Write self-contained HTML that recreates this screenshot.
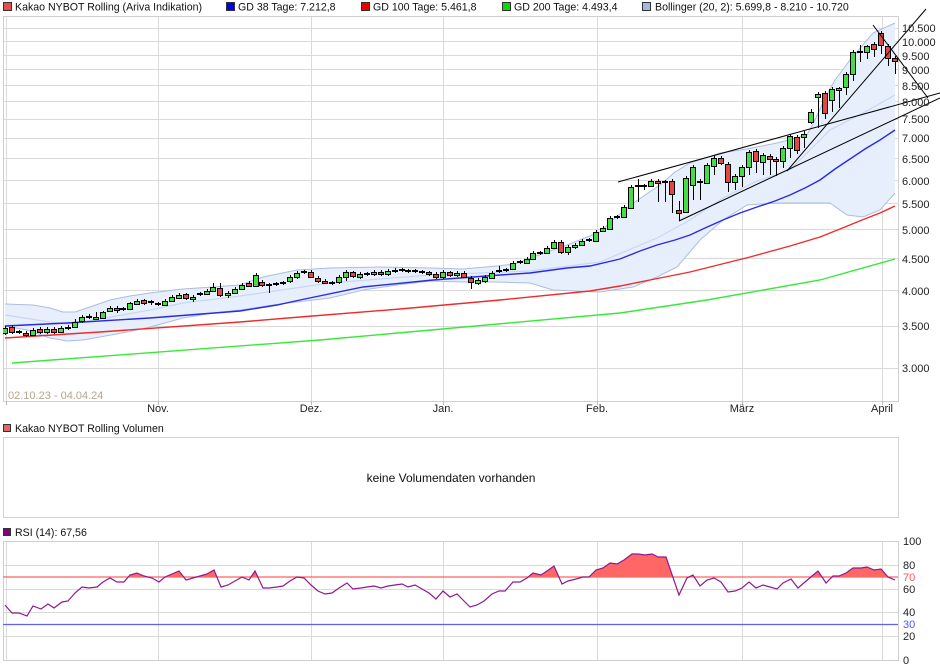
<!DOCTYPE html>
<html>
<head>
<meta charset="utf-8">
<style>
html,body{margin:0;padding:0;background:#fff;}
svg{display:block;font-family:"Liberation Sans",Arial,sans-serif;}
</style>
</head>
<body>
<svg width="940" height="670" viewBox="0 0 940 670" xmlns="http://www.w3.org/2000/svg">
<defs>
<clipPath id="plotclip"><rect x="3" y="16" width="896" height="386"/></clipPath>
<clipPath id="rsiclip"><rect x="3" y="541" width="896" height="36"/></clipPath>
</defs>

<!-- Legend -->
<g font-size="10.6" fill="#111">
<rect x="3.5" y="2.5" width="8" height="8" fill="#e84c4c" stroke="#333"/>
<text x="15" y="10.5">Kakao NYBOT Rolling (Ariva Indikation)</text>
<rect x="226.5" y="2.5" width="8" height="8" fill="#0000ee" stroke="#333"/>
<text x="238" y="10.5">GD 38 Tage: 7.212,8</text>
<rect x="361.5" y="2.5" width="8" height="8" fill="#ee0000" stroke="#333"/>
<text x="373" y="10.5">GD 100 Tage: 5.461,8</text>
<rect x="502.5" y="2.5" width="8" height="8" fill="#00dd00" stroke="#333"/>
<text x="514" y="10.5">GD 200 Tage: 4.493,4</text>
<rect x="642.5" y="2.5" width="8" height="8" fill="#a4b8e4" stroke="#333"/>
<text x="655" y="10.5">Bollinger (20, 2): 5.699,8 - 8.210 - 10.720</text>
</g>

<!-- Main grid -->
<g stroke="#dadada" stroke-width="1" fill="none">
<path d="M3 28.5H898M3 41.5H898M3 55.5H898M3 69.5H898M3 85.5H898M3 101.5H898M3 119.5H898M3 138.5H898M3 158.5H898M3 180.5H898M3 203.5H898M3 229.5H898M3 258.5H898M3 290.5H898M3 326.5H898M3 368.5H898"/>
<path d="M6.5 16V401M158.5 16V401M311.5 16V401M443.5 16V401M597.5 16V401M742.5 16V401M882.5 16V401"/>
</g>
<rect x="3.5" y="16.5" width="895" height="385" fill="none" stroke="#cfcfcf"/>
<path d="M6.5 401V405M158.5 401V405M311.5 401V405M443.5 401V405M597.5 401V405M742.5 401V405M882.5 401V405" stroke="#bbb"/>

<g clip-path="url(#plotclip)">
<!-- Bollinger -->
<polygon fill="#e8effc" stroke="none" points="5,304 33,305 50,308 63,312 75,312 90,307 110,300 130,296 150,293 183,289 213,287 240,285 263,277 297,270 330,268 380,267 430,268 463,269 497,266 515,264 533,257 567,245 600,232 615,218 631,205 645,195 660,185 675,172 690,163 720,153 747,149 777,143 807,135 815,120 825,98 835,80 850,60 873,33 895,23 895,193 880,210 863,217 847,215 830,203 797,203 777,203 747,205 723,220 700,240 677,267 657,277 633,287 600,292 553,290 530,283 497,282 463,282 430,281 397,285 363,290 330,298 280,304 240,310 213,313 183,318 150,327 127,332 100,337 83,340 67,341 50,338 27,330 5,326"/>
<polyline fill="none" stroke="#a9bde3" stroke-width="1" points="5,304 33,305 50,308 63,312 75,312 90,307 110,300 130,296 150,293 183,289 213,287 240,285 263,277 297,270 330,268 380,267 430,268 463,269 497,266 515,264 533,257 567,245 600,232 615,218 631,205 645,195 660,185 675,172 690,163 720,153 747,149 777,143 807,135 815,120 825,98 835,80 850,60 873,33 895,23"/>
<polyline fill="none" stroke="#a9bde3" stroke-width="1" points="895,193 880,210 863,217 847,215 830,203 797,203 777,203 747,205 723,220 700,240 677,267 657,277 633,287 600,292 553,290 530,283 497,282 463,282 430,281 397,285 363,290 330,298 280,304 240,310 213,313 183,318 150,327 127,332 100,337 83,340 67,341 50,338 27,330 5,326"/>
<polyline fill="none" stroke="#c6d7f4" stroke-width="1.2" points="5,315 50,322 67,324 100,319 150,310 183,303 240,296 330,283 430,275 530,271 600,262 657,238 690,220 723,198 757,181 790,170 810,150 830,130 863,113 895,95"/>

<!-- Moving averages -->
<polyline fill="none" stroke="#3ae83a" stroke-width="1.4" points="12,363 320,340 620,313 707,300 820,280 895,259"/>
<polyline fill="none" stroke="#f02b2b" stroke-width="1.4" points="5,338 100,332 240,322 300,317 400,309 500,300 590,291 620,286 650,280 690,272 750,257 790,246 820,237 845,227 862,220 880,213 895,206"/>
<polyline fill="none" stroke="#2a2ae6" stroke-width="1.4" points="5,326 67,323 150,318 240,311 277,305 300,300 363,287 433,280 500,275 530,273 567,268 590,266 620,259 640,251 657,245 675,240 690,235 705,228 723,220 740,213 757,207 775,201 790,195 805,188 820,180 835,169 847,161 865,149 880,140 895,130"/>

<!-- Wicks -->
<path fill="none" stroke="#000" stroke-width="1" d="M5.5 326V335M12.5 325V334M19.5 330V334M26.5 331V337M33.5 328V336M40.5 327V334M47.5 327V334M54.5 327V334M61.5 326V333M68.5 325V330M75.5 319V328M82.5 315V323M89.5 314V319M96.5 312V320M103.5 311V319M110.5 306V312M117.5 306V313M123.5 307V311M130.5 302V310M137.5 299V305M144.5 299V305M151.5 300V305M158.5 302V306M165.5 299V306M172.5 295V302M179.5 293V299M186.5 293V300M193.5 295V302M200.5 292V296M207.5 289V295M213.5 283V292M220.5 283V297M228.5 291V298M235.5 287V294M242.5 283V290M249.5 281V287M256.5 273V287M262.5 280V287M269.5 283V293M276.5 282V286M283.5 281V285M290.5 275V283M297.5 271V279M304.5 270V274M311.5 270V278M318.5 276V283M325.5 279V284M332.5 281V285M339.5 275V284M346.5 270V281M353.5 271V278M360.5 272V279M367.5 272V276M374.5 270V276M381.5 270V276M388.5 269V276M395.5 268V273M402.5 268V272M408.5 269V273M415.5 269V273M422.5 270V274M429.5 271V276M436.5 272V279M443.5 270V279M450.5 271V277M457.5 271V277M464.5 271V278M471.5 276V289M478.5 278V285M485.5 275V283M492.5 271V279M499.5 266V273M506.5 268V272M513.5 261V270M520.5 260V264M527.5 257V264M533.5 251V260M540.5 251V255M547.5 246V254M554.5 240V249M561.5 240V254M568.5 245V255M575.5 243V249M582.5 239V246M589.5 238V242M596.5 230V242M603.5 226V232M610.5 216V230M617.5 215V219M624.5 205V218M631.5 185V209M638.5 179V202M644.5 184V190M651.5 179V187M658.5 179V202M665.5 180V202M672.5 179V213M679.5 201V221M686.5 176V213M693.5 165V200M700.5 179V200M707.5 163V184M714.5 156V175M721.5 156V165M728.5 162V192M735.5 174V190M742.5 165V187M749.5 150V175M756.5 149V173M763.5 153V175M770.5 154V175M776.5 157V176M783.5 146V168M790.5 134V158M797.5 135V154M804.5 131V148M811.5 109V124M818.5 92V128M825.5 91V119M832.5 87V112M839.5 87V108M846.5 72V95M853.5 50V81M860.5 45V62M867.5 45V59M874.5 42V57M881.5 31V54M888.5 44V66M895.5 56V74"/>

<!-- Green bodies -->
<path fill="#44dd44" stroke="#000" stroke-width="1" d="M2.5 328.5h5V333.5h-5zM30.5 330.5h5V335.5h-5zM44.5 329.5h5V332.5h-5zM58.5 328.5h5V332.5h-5zM72.5 322.5h5V327.5h-5zM79.5 317.5h5V321.5h-5zM93.5 317.5h5V319.5h-5zM100.5 312.5h5V318.5h-5zM107.5 308.5h5V311.5h-5zM127.5 303.5h5V309.5h-5zM134.5 301.5h5V304.5h-5zM162.5 301.5h5V305.5h-5zM169.5 297.5h5V301.5h-5zM176.5 295.5h5V298.5h-5zM190.5 297.5h5V299.5h-5zM204.5 291.5h5V294.5h-5zM210.5 287.5h5V291.5h-5zM225.5 293.5h5V295.5h-5zM232.5 289.5h5V293.5h-5zM239.5 285.5h5V289.5h-5zM253.5 275.5h5V286.5h-5zM287.5 277.5h5V281.5h-5zM294.5 273.5h5V277.5h-5zM336.5 277.5h5V282.5h-5zM343.5 272.5h5V277.5h-5zM357.5 274.5h5V277.5h-5zM371.5 272.5h5V274.5h-5zM385.5 271.5h5V274.5h-5zM440.5 272.5h5V277.5h-5zM454.5 273.5h5V275.5h-5zM475.5 280.5h5V283.5h-5zM482.5 277.5h5V281.5h-5zM489.5 273.5h5V278.5h-5zM510.5 263.5h5V269.5h-5zM524.5 259.5h5V263.5h-5zM530.5 253.5h5V259.5h-5zM544.5 248.5h5V253.5h-5zM551.5 242.5h5V248.5h-5zM565.5 247.5h5V252.5h-5zM572.5 245.5h5V247.5h-5zM579.5 241.5h5V245.5h-5zM593.5 232.5h5V241.5h-5zM600.5 228.5h5V231.5h-5zM607.5 218.5h5V229.5h-5zM621.5 207.5h5V217.5h-5zM628.5 187.5h5V208.5h-5zM648.5 181.5h5V186.5h-5zM683.5 178.5h5V212.5h-5zM690.5 167.5h5V185.5h-5zM704.5 165.5h5V183.5h-5zM711.5 158.5h5V166.5h-5zM732.5 176.5h5V182.5h-5zM739.5 167.5h5V176.5h-5zM746.5 152.5h5V167.5h-5zM760.5 155.5h5V162.5h-5zM780.5 148.5h5V161.5h-5zM787.5 136.5h5V148.5h-5zM801.5 134.5h5V137.5h-5zM808.5 112.5h5V122.5h-5zM815.5 94.5h5V97.5h-5zM829.5 89.5h5V100.5h-5zM836.5 88.5h5V90.5h-5zM843.5 74.5h5V87.5h-5zM850.5 52.5h5V74.5h-5zM864.5 46.5h5V52.5h-5z"/>

<!-- Red bodies -->
<path fill="#e24646" stroke="#000" stroke-width="1" d="M9.5 327.5h5V332.5h-5zM23.5 333.5h5V335.5h-5zM37.5 329.5h5V332.5h-5zM51.5 329.5h5V332.5h-5zM114.5 308.5h5V310.5h-5zM141.5 300.5h5V303.5h-5zM183.5 294.5h5V298.5h-5zM217.5 288.5h5V295.5h-5zM246.5 283.5h5V286.5h-5zM259.5 282.5h5V285.5h-5zM308.5 272.5h5V277.5h-5zM315.5 278.5h5V281.5h-5zM322.5 281.5h5V283.5h-5zM350.5 272.5h5V276.5h-5zM378.5 272.5h5V274.5h-5zM426.5 272.5h5V274.5h-5zM433.5 274.5h5V277.5h-5zM447.5 272.5h5V275.5h-5zM461.5 273.5h5V277.5h-5zM468.5 278.5h5V282.5h-5zM558.5 242.5h5V252.5h-5zM655.5 181.5h5V183.5h-5zM669.5 181.5h5V194.5h-5zM676.5 210.5h5V213.5h-5zM718.5 158.5h5V163.5h-5zM725.5 164.5h5V182.5h-5zM753.5 151.5h5V161.5h-5zM767.5 156.5h5V159.5h-5zM773.5 159.5h5V161.5h-5zM794.5 137.5h5V150.5h-5zM822.5 93.5h5V113.5h-5zM871.5 44.5h5V49.5h-5zM878.5 33.5h5V45.5h-5zM885.5 46.5h5V58.5h-5zM892.5 58.5h5V61.5h-5z"/>

<!-- Doji -->
<path fill="none" stroke="#000" stroke-width="2" d="M16 332h6M65 328h6M86 317h6M120 309h6M148 302h6M155 304h6M197 294h6M266 285h6M273 284h6M280 283h6M301 272h6M329 283h6M364 274h6M392 271h6M399 270h6M405 271h6M412 271h6M419 272h6M496 271h6M503 270h6M517 262h6M537 253h6M586 240h6M614 217h6M635 186h6M641 186h6M662 182h6M697 182h6M857 52h6"/>
</g>

<!-- Trend lines -->
<g stroke="#000" stroke-width="1" fill="none">
<line x1="618" y1="182" x2="940" y2="93"/>
<line x1="679" y1="221" x2="940" y2="98"/>
<line x1="787" y1="171" x2="926" y2="9"/>
<line x1="873" y1="25" x2="928" y2="98"/>
</g>

<!-- Y labels main -->
<g font-size="11" fill="#222">
<text x="902" y="32">10.500</text>
<text x="902" y="46">10.000</text>
<text x="902" y="60">9.500</text>
<text x="902" y="74">9.000</text>
<text x="902" y="90">8.500</text>
<text x="902" y="106">8.000</text>
<text x="902" y="123">7.500</text>
<text x="902" y="142">7.000</text>
<text x="902" y="163">6.500</text>
<text x="902" y="185">6.000</text>
<text x="902" y="208">5.500</text>
<text x="902" y="234">5.000</text>
<text x="902" y="263">4.500</text>
<text x="902" y="295">4.000</text>
<text x="902" y="330">3.500</text>
<text x="902" y="372">3.000</text>
</g>

<text x="8" y="399" font-size="11" fill="#b5a68f">02.10.23 - 04.04.24</text>

<!-- Month labels -->
<g font-size="11" fill="#222" text-anchor="middle">
<text x="158" y="412">Nov.</text>
<text x="311" y="412">Dez.</text>
<text x="443" y="412">Jan.</text>
<text x="597" y="412">Feb.</text>
<text x="742" y="412">März</text>
<text x="882" y="412">April</text>
</g>

<!-- Volume panel -->
<rect x="3.5" y="424.5" width="7" height="7" fill="#e06666" stroke="#333"/>
<text x="15" y="432" font-size="10.6" fill="#111">Kakao NYBOT Rolling Volumen</text>
<rect x="3.5" y="437.5" width="895" height="80" fill="#fff" stroke="#d4d4d4"/>
<text x="451" y="482" font-size="12" fill="#111" text-anchor="middle">keine Volumendaten vorhanden</text>

<!-- RSI panel -->
<rect x="3.5" y="528.5" width="7" height="7" fill="#800080" stroke="#333"/>
<text x="15" y="536" font-size="10.6" fill="#111">RSI (14): 67,56</text>
<g stroke="#dadada" stroke-width="1" fill="none">
<path d="M3 565.5H898M3 589.5H898M3 612.5H898M3 636.5H898"/>
<path d="M6.5 541V660M158.5 541V660M311.5 541V660M443.5 541V660M597.5 541V660M742.5 541V660M882.5 541V660"/>
</g>
<rect x="3.5" y="541.5" width="895" height="119" fill="none" stroke="#cfcfcf"/>
<line x1="3" y1="577" x2="898" y2="577" stroke="#ff6060" stroke-width="1.2"/>
<line x1="3" y1="624.5" x2="898" y2="624.5" stroke="#6060ff" stroke-width="1.2"/>
<polygon clip-path="url(#rsiclip)" fill="#ff6666" stroke="none" points="5,577 5,605 12,613 19,613 27,616 33,606 41,609 48,604 54,608 62,602 68,601 75,593 82,587 89,588 97,587 103,582 110,578 117,582 124,582 130,575 137,573 144,576 152,578 159,582 165,577 172,574 179,571 186,580 193,578 200,576 207,574 214,570 221,587 228,585 235,581 242,577 249,580 255,571 263,588 269,588 277,587 283,586 290,581 297,577 304,578 311,585 318,591 325,594 332,593 339,588 347,583 353,589 361,588 367,587 374,586 381,588 388,586 395,585 402,584 408,587 415,585 422,589 429,593 436,599 443,591 450,597 457,594 464,601 470,607 477,605 484,601 492,594 499,591 505,591 513,582 520,582 527,578 533,573 541,575 547,571 554,566 562,584 568,581 576,579 583,577 589,577 596,570 603,568 610,563 617,564 624,560 632,554 638,554 645,555 652,554 658,557 666,557 679,595 687,578 693,575 700,586 707,580 714,578 721,582 728,592 735,591 742,588 749,582 756,588 763,585 770,587 777,589 783,583 791,579 798,588 805,582 812,576 818,571 826,583 833,576 839,576 846,573 853,568 861,568 867,567 874,570 881,569 888,577 895,580 895,577"/>
<polyline fill="none" stroke="#8e1a8e" stroke-width="1.2" points="5,605 12,613 19,613 27,616 33,606 41,609 48,604 54,608 62,602 68,601 75,593 82,587 89,588 97,587 103,582 110,578 117,582 124,582 130,575 137,573 144,576 152,578 159,582 165,577 172,574 179,571 186,580 193,578 200,576 207,574 214,570 221,587 228,585 235,581 242,577 249,580 255,571 263,588 269,588 277,587 283,586 290,581 297,577 304,578 311,585 318,591 325,594 332,593 339,588 347,583 353,589 361,588 367,587 374,586 381,588 388,586 395,585 402,584 408,587 415,585 422,589 429,593 436,599 443,591 450,597 457,594 464,601 470,607 477,605 484,601 492,594 499,591 505,591 513,582 520,582 527,578 533,573 541,575 547,571 554,566 562,584 568,581 576,579 583,577 589,577 596,570 603,568 610,563 617,564 624,560 632,554 638,554 645,555 652,554 658,557 666,557 679,595 687,578 693,575 700,586 707,580 714,578 721,582 728,592 735,591 742,588 749,582 756,588 763,585 770,587 777,589 783,583 791,579 798,588 805,582 812,576 818,571 826,583 833,576 839,576 846,573 853,568 861,568 867,567 874,570 881,569 888,577 895,580"/>
<g font-size="11" fill="#222">
<text x="903" y="545">100</text>
<text x="903" y="569">80</text>
<text x="903" y="581" fill="#ff5555">70</text>
<text x="903" y="593">60</text>
<text x="903" y="616">40</text>
<text x="903" y="628" fill="#5555ff">30</text>
<text x="903" y="640">20</text>
<text x="903" y="664">0</text>
</g>
</svg>
</body>
</html>
